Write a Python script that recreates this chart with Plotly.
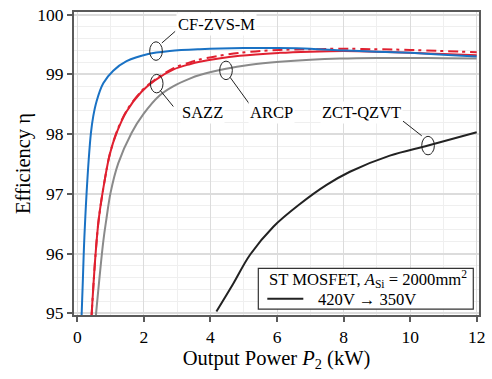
import plotly.graph_objects as go

# ---- data ----
cf_zvs_m_p = [0.13, 0.17, 0.20, 0.24, 0.28, 0.34, 0.41, 0.48, 0.58, 0.78, 1.08, 1.48, 2.13, 2.78, 3.68, 5.0, 6.0, 7.0, 8.0, 9.0, 10.0, 11.0, 12.0]
cf_zvs_m_eta = [94.97, 95.6, 96.1, 96.6, 97.02, 97.55, 98.02, 98.3, 98.55, 98.85, 99.06, 99.22, 99.34, 99.39, 99.42, 99.44, 99.44, 99.43, 99.40, 99.38, 99.36, 99.33, 99.30]

sazz_p = [0.43, 0.55, 0.65, 0.83, 0.98, 1.18, 1.48, 1.93, 2.33, 2.88, 3.38, 3.68, 4.88, 6.08, 7.0, 8.0, 9.0, 10.0, 11.0, 12.0]
sazz_eta = [94.97, 96.0, 96.6, 97.25, 97.67, 98.02, 98.38, 98.71, 98.90, 99.08, 99.17, 99.21, 99.31, 99.36, 99.38, 99.39, 99.38, 99.36, 99.34, 99.32]

sazz2_p = [0.43, 0.55, 0.65, 0.83, 0.98, 1.18, 1.48, 1.93, 2.33, 2.88, 3.38, 3.68, 4.88, 6.08, 7.0, 8.0, 9.0, 10.0, 11.0, 12.0]
sazz2_eta = [94.97, 96.0, 96.6, 97.25, 97.67, 98.03, 98.39, 98.72, 98.91, 99.10, 99.20, 99.25, 99.36, 99.41, 99.42, 99.43, 99.42, 99.41, 99.39, 99.37]

arcp_p = [0.56, 0.78, 0.88, 1.0, 1.23, 1.63, 1.98, 2.48, 2.88, 3.38, 3.68, 4.43, 5.2, 6.08, 7.0, 7.89, 9.0, 10.0, 11.0, 12.0]
arcp_eta = [94.97, 96.2, 96.6, 97.02, 97.51, 98.02, 98.33, 98.65, 98.80, 98.93, 98.99, 99.09, 99.16, 99.21, 99.245, 99.265, 99.275, 99.275, 99.27, 99.265]

zct_p = [4.18, 4.68, 5.19, 5.89, 6.69, 7.49, 8.19, 9.39, 10.54, 12.0]
zct_eta = [95.03, 95.49, 95.98, 96.45, 96.83, 97.15, 97.37, 97.64, 97.81, 98.03]

x_ticks = [0, 2, 4, 6, 8, 10, 12]
y_ticks = [95, 96, 97, 98, 99, 100]

legend_title = "ST MOSFET, <i>A</i><sub>Si</sub> = 2000mm<sup>2</sup>"
legend_item = "420V \u2192 350V"

# label: (text, ellipse center P, ellipse center eta, leader start, leader end, label pos, anchor)
labels = [
    ("CF-ZVS-M", 2.365, 99.39, (2.54, 99.525), (2.94, 99.72), (2.98, 99.83), "left"),
    ("SAZZ", 2.386, 98.845, (2.485, 98.736), (2.885, 98.462), (3.747, 98.354), "center"),
    ("ARCP", 4.468, 99.067, (4.588, 98.953), (5.19, 98.49), (5.835, 98.354), "center"),
    ("ZCT-QZVT", 10.538, 97.808, (10.35, 97.971), (9.787, 98.217), (8.525, 98.354), "center"),
]

FONT = "Liberation Serif, Times New Roman, DejaVu Serif, serif"
BLUE = "#1a72c4"
RED = "#e02030"
GREY = "#8a8a8a"
BLACK = "#222222"

fig = go.Figure()
fig.add_trace(go.Scatter(x=arcp_p, y=arcp_eta, mode="lines", line=dict(color=GREY, width=2, shape="spline"), showlegend=False))
fig.add_trace(go.Scatter(x=sazz2_p, y=sazz2_eta, mode="lines", line=dict(color=RED, width=2, shape="spline", dash="10px,4px,3px,5px"), showlegend=False))
fig.add_trace(go.Scatter(x=sazz_p, y=sazz_eta, mode="lines", line=dict(color=RED, width=2, shape="spline"), showlegend=False))
fig.add_trace(go.Scatter(x=cf_zvs_m_p, y=cf_zvs_m_eta, mode="lines", line=dict(color=BLUE, width=2, shape="spline"), showlegend=False))
fig.add_trace(go.Scatter(x=zct_p, y=zct_eta, mode="lines", line=dict(color=BLACK, width=2, shape="spline"), showlegend=False))

shapes = []
annotations = []
for text, cx, cy, ls, le, lp, anc in labels:
    shapes.append(dict(type="circle", xref="x", yref="y", x0=cx - 0.19, x1=cx + 0.19, y0=cy - 0.155, y1=cy + 0.155,
                       line=dict(color=BLACK, width=1)))
    shapes.append(dict(type="line", xref="x", yref="y", x0=ls[0], y0=ls[1], x1=le[0], y1=le[1],
                       line=dict(color=BLACK, width=1)))
    annotations.append(dict(x=lp[0], y=lp[1], xref="x", yref="y", text=text, showarrow=False, xanchor=anc, yanchor="middle",
                            bgcolor="white", borderpad=1, font=dict(family=FONT, size=16.5, color="black")))

# legend box (drawn in plot-area paper coordinates)
shapes.append(dict(type="rect", xref="paper", yref="paper", x0=0.4551, x1=0.9859, y0=0.0194, y1=0.1539,
                   fillcolor="white", line=dict(color="#333333", width=1.2), layer="above"))
shapes.append(dict(type="line", xref="paper", yref="paper", x0=0.4773, x1=0.5662, y0=0.0535, y1=0.0535,
                   line=dict(color=BLACK, width=2), layer="above"))
annotations.append(dict(x=0.4765, y=0.118, xref="paper", yref="paper", text=legend_title, showarrow=False,
                        xanchor="left", yanchor="middle", font=dict(family=FONT, size=16.6, color="black")))
annotations.append(dict(x=0.5975, y=0.050, xref="paper", yref="paper", text=legend_item, showarrow=False,
                        xanchor="left", yanchor="middle", font=dict(family=FONT, size=16.6, color="black")))

fig.update_layout(
    width=492, height=379,
    margin=dict(l=74, r=13, t=5, b=64),
    paper_bgcolor="white", plot_bgcolor="white",
    font=dict(family=FONT, size=17, color="black"),
    shapes=shapes, annotations=annotations,
    showlegend=False,
)
fig.update_xaxes(
    range=[-0.099, 12.069], tickvals=x_ticks, ticktext=[str(v) for v in x_ticks],
    showline=True, linecolor="#5a5a5a", linewidth=2, mirror=True,
    ticks="outside", ticklen=5, tickcolor="#5a5a5a", tickwidth=1.5,
    showgrid=True, gridcolor="#dcdcdc", gridwidth=1.2,
    minor=dict(dtick=1, tick0=0, showgrid=True, gridcolor="#efefef", gridwidth=1),
    zeroline=False, ticklabeloverflow="allow",
    title=dict(text="Output Power <i>P</i><sub>2</sub> (kW)", font=dict(family=FONT, size=20.5), standoff=4),
    tickfont=dict(family=FONT, size=17.5),
)
fig.update_yaxes(
    range=[94.972, 100.044], tickvals=y_ticks, ticktext=[str(v) for v in y_ticks],
    showline=True, linecolor="#5a5a5a", linewidth=2, mirror=True,
    ticks="outside", ticklen=5, tickcolor="#5a5a5a", tickwidth=1.5,
    showgrid=True, gridcolor="#dcdcdc", gridwidth=2,
    minor=dict(dtick=0.2, tick0=95, showgrid=True, gridcolor="#efefef", gridwidth=1),
    zeroline=False, ticklabeloverflow="allow",
    title=dict(text="Efficiency \u03b7", font=dict(family=FONT, size=20.5), standoff=1),
    tickfont=dict(family=FONT, size=17.5),
)
fig.write_html("out.html")
